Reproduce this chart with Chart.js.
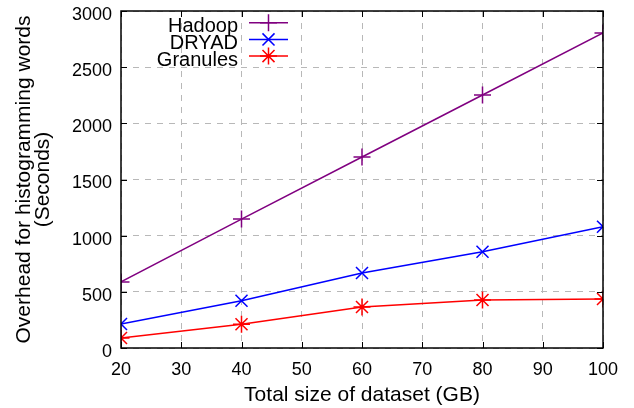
<!DOCTYPE html>
<html lang="en">
<head>
<meta charset="UTF-8">
<title>Overhead for histogramming words</title>
<style>
  html, body { margin: 0; padding: 0; background: #fff; }
  #wrap { width: 634px; height: 408px; }
</style>
</head>
<body>
<div id="wrap"><canvas id="myChart" width="634" height="408"></canvas></div>
<script src="https://cdn.jsdelivr.net/npm/chart.js@4/dist/chart.umd.min.js"></script>
<script>
  // dataset sizes (GB)
  var sizes = [20, 40, 60, 80, 100];
  // overhead in seconds
  var hadoop = [588, 1148, 1700, 2252, 2805];
  var dryad = [214, 421, 668, 857, 1080];
  var granules = [89, 211, 365, 427, 436];
  var seriesNames = ["Hadoop", "DRYAD", "Granules"];
  var seriesColors = ["#800080", "#0000ff", "#ff0000"];
  var seriesMarks = ["cross", "crossRot", "star"];

  var FONT = "'Liberation Sans', Arial, sans-serif";

  function toPoints(vals) {
    return sizes.map(function (x, i) { return { x: x, y: vals[i] }; });
  }

  var allSeries = [hadoop, dryad, granules];
  var datasets = allSeries.map(function (vals, i) {
    return {
      label: seriesNames[i],
      data: toPoints(vals),
      borderColor: seriesColors[i],
      backgroundColor: seriesColors[i],
      borderWidth: 1.5,
      pointStyle: seriesMarks[i],
      pointRadius: 8.5,
      pointBorderWidth: 1.5,
      pointHoverRadius: 8.5,
      tension: 0
    };
  });

  // black frame with inward ticks + legend inside top-left
  var framePlugin = {
    id: "frame",
    afterDraw: function (chart) {
      var ctx = chart.ctx, a = chart.chartArea;
      var xs = chart.scales.x, ys = chart.scales.y;
      ctx.save();
      ctx.strokeStyle = "#000";
      ctx.lineWidth = 1.5;
      ctx.strokeRect(a.left, a.top, a.right - a.left, a.bottom - a.top);

      ctx.lineWidth = 1;
      ctx.beginPath();
      xs.ticks.forEach(function (t) {
        var px = Math.round(xs.getPixelForValue(t.value)) + 0.5;
        ctx.moveTo(px, a.bottom); ctx.lineTo(px, a.bottom - 6);
        ctx.moveTo(px, a.top); ctx.lineTo(px, a.top + 6);
      });
      ys.ticks.forEach(function (t) {
        var py = Math.round(ys.getPixelForValue(t.value)) + 0.5;
        ctx.moveTo(a.left, py); ctx.lineTo(a.left + 6, py);
        ctx.moveTo(a.right, py); ctx.lineTo(a.right - 6, py);
      });
      ctx.stroke();

      ctx.font = "20px " + FONT;
      ctx.textAlign = "right";
      ctx.textBaseline = "middle";
      chart.data.datasets.forEach(function (ds, i) {
        var y = 22.7 + i * 16.7;
        ctx.fillStyle = "#000";
        ctx.fillText(ds.label, 238, y + 4);
        ctx.strokeStyle = ds.borderColor;
        ctx.lineWidth = 1.5;
        ctx.beginPath();
        ctx.moveTo(249, y);
        ctx.lineTo(288, y);
        ctx.stroke();
        Chart.helpers.drawPoint(ctx, {
          pointStyle: ds.pointStyle,
          radius: 8.5,
          borderWidth: 1.5,
          rotation: 0
        }, 268.5, y);
      });
      ctx.restore();
    }
  };

  new Chart(document.getElementById("myChart"), {
    type: "line",
    data: { datasets: datasets },
    plugins: [framePlugin],
    options: {
      responsive: false,
      animation: false,
      layout: { padding: { top: 11, right: 31, left: 0, bottom: 0 } },
      plugins: {
        legend: { display: false },
        tooltip: { enabled: false }
      },
      scales: {
        x: {
          type: "linear",
          min: 20,
          max: 100,
          ticks: { stepSize: 10, color: "#000", font: { family: FONT, size: 18 }, padding: 11 },
          grid: { color: "#b8b8b8", lineWidth: 1, drawTicks: false },
          border: { display: false, dash: [6, 6] },
          title: {
            display: true,
            text: "Total size of dataset (GB)",
            color: "#000",
            font: { family: FONT, size: 21 },
            padding: { top: 0, bottom: 0 }
          },
          afterFit: function (scale) {
            scale.height = 60;
            scale.paddingLeft = 0;
            scale.paddingRight = 0;
          }
        },
        y: {
          min: 0,
          max: 3000,
          ticks: {
            stepSize: 500,
            color: "#000",
            font: { family: FONT, size: 18 },
            padding: 9,
            labelOffset: 4,
            callback: function (v) { return String(v); }
          },
          grid: { color: "#b8b8b8", lineWidth: 1, drawTicks: false },
          border: { display: false, dash: [6, 6] },
          title: {
            display: true,
            text: ["Overhead for histogramming words", "(Seconds)"],
            color: "#000",
            font: { family: FONT, size: 21, lineHeight: 0.9 },
            padding: { top: 15, bottom: 0 }
          },
          afterFit: function (scale) {
            scale.width = 121;
            scale.paddingTop = 0;
            scale.paddingBottom = 0;
          }
        }
      }
    }
  });
</script>
</body>
</html>
